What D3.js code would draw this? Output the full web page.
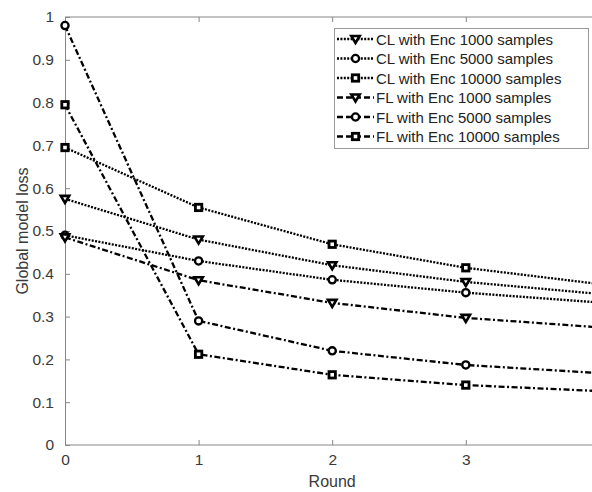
<!DOCTYPE html>
<html><head><meta charset="utf-8">
<script src="https://cdn.jsdelivr.net/npm/d3@7"></script>
<style>body{margin:0;background:#fff}svg{display:block;font-family:"Liberation Sans",Arial,sans-serif}</style>
</head><body><svg id="c" width="592" height="492"></svg>
<script>
const rounds = [0, 1, 2, 3, 4];
const seriesNames = ["CL with Enc 1000 samples","CL with Enc 5000 samples","CL with Enc 10000 samples","FL with Enc 1000 samples","FL with Enc 5000 samples","FL with Enc 10000 samples"];
const cl1000 = [0.575, 0.480, 0.420, 0.381, 0.353];
const cl5000 = [0.490, 0.430, 0.386, 0.356, 0.333];
const cl10000 = [0.695, 0.555, 0.469, 0.414, 0.376];
const fl1000 = [0.485, 0.385, 0.332, 0.297, 0.275];
const fl5000 = [0.980, 0.290, 0.220, 0.187, 0.168];
const fl10000 = [0.795, 0.212, 0.164, 0.140, 0.126];
const xTicks = [0, 1, 2, 3];
const yTicks = [0, 0.1, 0.2, 0.3, 0.4, 0.5, 0.6, 0.7, 0.8, 0.9, 1];

const svg = d3.select("#c");
const L = 65, T = 17, B = 445;
const x = d3.scaleLinear().domain([0, 4]).range([L, L + 4 * 133.6]);
const y = d3.scaleLinear().domain([0, 1]).range([B, T]);
const axisCol = "#868686", textCol = "#3a3a3a";
const FONT = "Liberation Sans, Arial, sans-serif";

const series = [
  {name: seriesNames[0], v: cl1000, m: "tri", dash: "2,1.4"},
  {name: seriesNames[1], v: cl5000, m: "circ", dash: "2,1.4"},
  {name: seriesNames[2], v: cl10000, m: "sq", dash: "2,1.4"},
  {name: seriesNames[3], v: fl1000, m: "tri", dash: "6,2.5,2,2.5"},
  {name: seriesNames[4], v: fl5000, m: "circ", dash: "6,2.5,2,2.5"},
  {name: seriesNames[5], v: fl10000, m: "sq", dash: "6,2.5,2,2.5"}
];

// axes
const gx = svg.append("g").attr("transform", `translate(0,${B})`)
  .call(d3.axisBottom(x).tickValues(xTicks).tickSize(-5).tickPadding(9).tickFormat(d3.format("d")));
const gxt = svg.append("g").attr("transform", `translate(0,${T})`)
  .call(d3.axisTop(x).tickValues(xTicks).tickSize(-5).tickFormat(""));
const gy = svg.append("g").attr("transform", `translate(${L},0)`)
  .call(d3.axisLeft(y).tickValues(yTicks).tickSize(-5).tickPadding(11).tickFormat(d => d === 0 || d === 1 ? d3.format("d")(d) : d3.format(".1f")(d)));
[gx, gxt, gy].forEach(g => {
  g.attr("font-family", FONT).attr("font-size", 15);
  g.select(".domain").attr("stroke", axisCol).attr("stroke-width", 1);
  g.selectAll(".tick line").attr("stroke", axisCol);
  g.selectAll(".tick text").attr("fill", textCol).style("font-size", "15.5px").style("font-family", FONT);
});
gx.select(".domain").attr("d", `M${L},0H600`);
gxt.select(".domain").attr("d", `M${L},0H600`);
gxt.selectAll(".tick").filter(d => d === 0).remove();
gx.selectAll(".tick").filter(d => d === 0).select("line").remove();
gy.selectAll(".tick").filter(d => d === 0 || d === 1).select("line").remove();

svg.append("text").attr("x", x(2)).attr("y", 487).attr("text-anchor", "middle")
  .attr("fill", textCol).style("font-size", "16px").text("Round");
svg.append("text").attr("transform", `translate(28,${(T + B) / 2}) rotate(-90)`).attr("text-anchor", "middle")
  .attr("fill", textCol).style("font-size", "16px").text("Global model loss");

function marker(g, type, cx, cy) {
  if (type === "tri") {
    const s = 4.2;
    g.append("path").attr("d", `M${cx - s},${cy - 3}L${cx + s},${cy - 3}L${cx},${cy + 4}Z`)
      .attr("fill", "#fff").attr("stroke", "#000").attr("stroke-width", 2.6).attr("stroke-linejoin", "miter");
  } else if (type === "circ") {
    g.append("circle").attr("cx", cx).attr("cy", cy).attr("r", 3.6)
      .attr("fill", "#fff").attr("stroke", "#000").attr("stroke-width", 2.3);
  } else {
    g.append("rect").attr("x", cx - 3.2).attr("y", cy - 3.2).attr("width", 6.4).attr("height", 6.4)
      .attr("fill", "#fff").attr("stroke", "#000").attr("stroke-width", 2.8);
  }
}

const line = d3.line().x((d, i) => x(rounds[i])).y(d => y(d));
const plot = svg.append("g");
series.forEach(s => {
  plot.append("path").attr("d", line(s.v)).attr("fill", "none").attr("stroke", "#000")
    .attr("stroke-width", 2.3).attr("stroke-dasharray", s.dash);
  s.v.forEach((v, i) => marker(plot, s.m, x(rounds[i]), y(v)));
});

// legend
const lg = svg.append("g");
lg.append("rect").attr("x", 334.5).attr("y", 28.5).attr("width", 254).attr("height", 120)
  .attr("fill", "#fff").attr("stroke", "#999").attr("stroke-width", 1);
series.forEach((s, i) => {
  const yy = 39 + i * 19.5;
  lg.append("line").attr("x1", 337).attr("x2", 374).attr("y1", yy).attr("y2", yy)
    .attr("stroke", "#000").attr("stroke-width", 2.3).attr("stroke-dasharray", i < 3 ? "2,1.4" : "6,3");
  marker(lg, s.m, 355.5, yy);
  lg.append("text").attr("x", 376).attr("y", yy + 5.5).style("font-size", "15px").attr("fill", "#222").text(s.name);
});
</script></body></html>
